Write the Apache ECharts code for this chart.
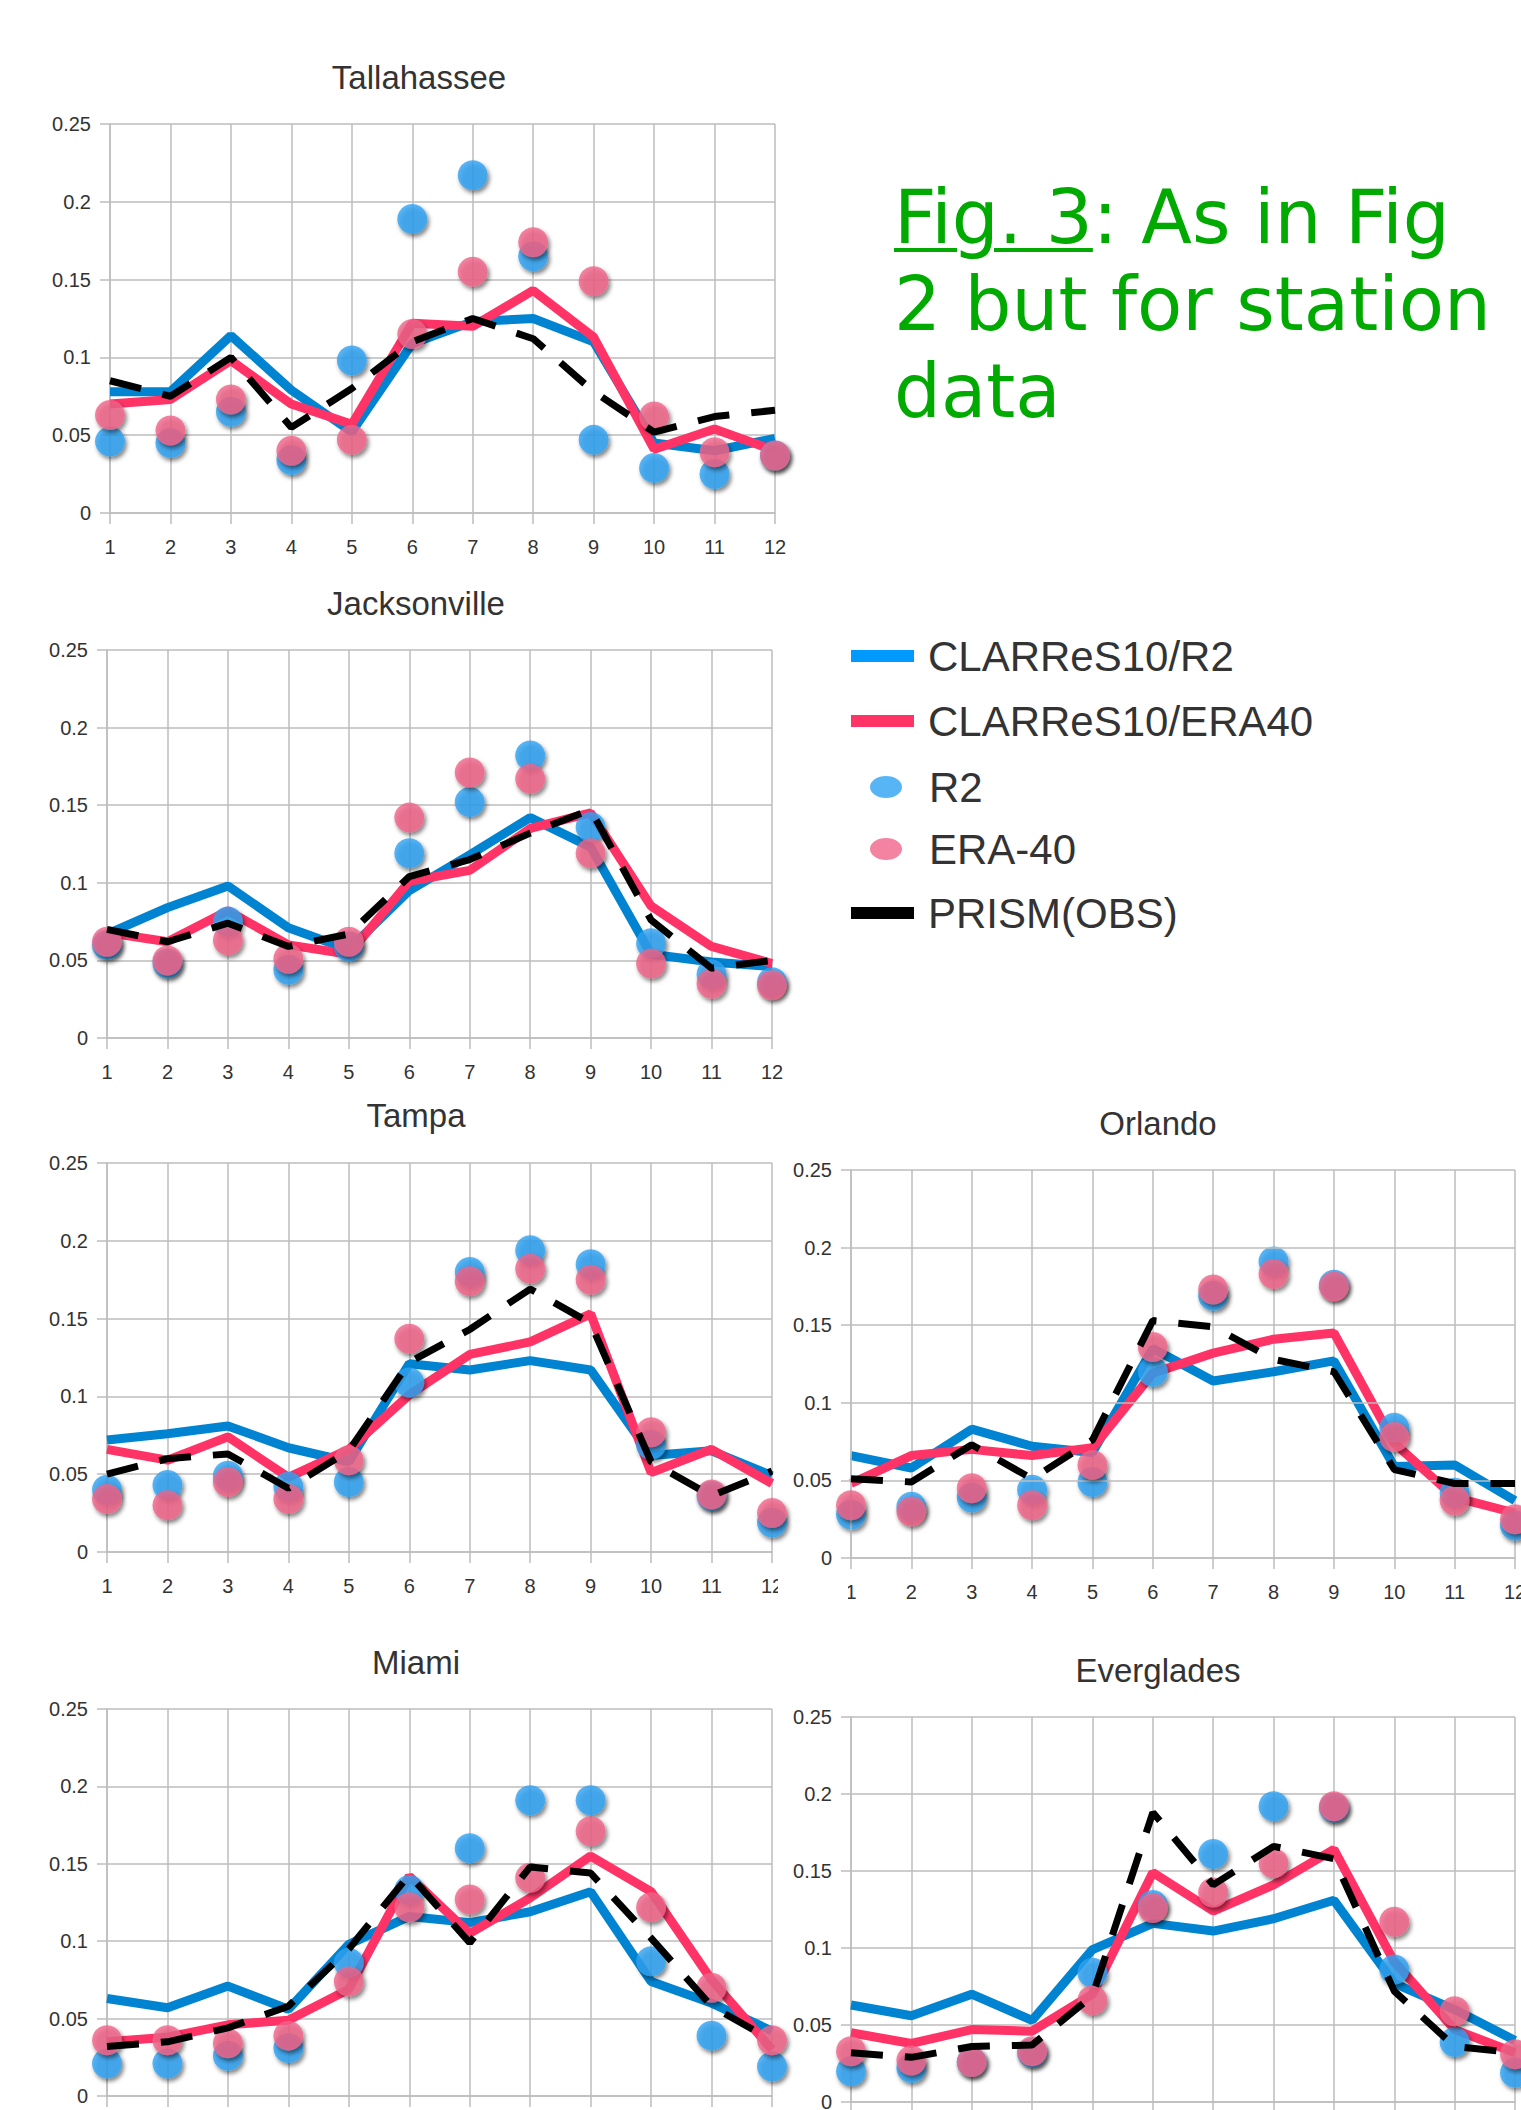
<!DOCTYPE html>
<html>
<head>
<meta charset="utf-8">
<title>Fig. 3 – station data</title>
<script src="https://cdn.jsdelivr.net/npm/echarts@6.0.0/dist/echarts.min.js"></script>
<style>
  html, body { margin: 0; padding: 0; background: #fff; }
  #chart { position: absolute; left: 0; top: 0; width: 1521px; height: 2110px; }
  /* caption to the right of the first two panels */
  #caption {
    position: absolute; left: 894px; top: 174px; white-space: nowrap;
    font-family: 'DejaVu Sans', sans-serif; font-size: 74px; line-height: 87px; color: #00aa00;
  }
  #caption u { text-decoration-thickness: 4px; text-underline-offset: 5px; }
</style>
</head>
<body>
<div id="chart"></div>
<div id="caption"><u>Fig. 3</u>: As in Fig<br>2 but for station<br>data</div>
<script>
// months on the x axis
const months = [1, 2, 3, 4, 5, 6, 7, 8, 9, 10, 11, 12]

// Tallahassee
const tallahasseeClarresR2 = [0.078, 0.078, 0.114, 0.079, 0.052, 0.109, 0.123, 0.125, 0.110, 0.045, 0.040, 0.048]
const tallahasseeClarresEra = [0.070, 0.073, 0.098, 0.070, 0.057, 0.122, 0.120, 0.143, 0.113, 0.041, 0.054, 0.040]
const tallahasseeR2 = [0.046, 0.045, 0.065, 0.034, 0.098, 0.189, 0.217, 0.165, 0.047, 0.029, 0.025, 0.037]
const tallahasseeEra = [0.063, 0.053, 0.073, 0.040, 0.047, 0.115, 0.155, 0.174, 0.149, 0.062, 0.039, 0.037]
const tallahasseePrism = [0.085, 0.075, 0.100, 0.055, 0.080, 0.110, 0.125, 0.112, 0.078, 0.052, 0.062, 0.066]

// Jacksonville
const jacksonvilleClarresR2 = [0.067, 0.084, 0.098, 0.071, 0.057, 0.095, 0.118, 0.142, 0.123, 0.054, 0.049, 0.046]
const jacksonvilleClarresEra = [0.068, 0.062, 0.082, 0.060, 0.054, 0.101, 0.108, 0.135, 0.145, 0.085, 0.059, 0.048]
const jacksonvilleR2 = [0.060, 0.048, 0.075, 0.044, 0.059, 0.119, 0.152, 0.182, 0.136, 0.061, 0.041, 0.036]
const jacksonvilleEra = [0.062, 0.050, 0.063, 0.051, 0.062, 0.142, 0.171, 0.167, 0.119, 0.048, 0.035, 0.034]
const jacksonvillePrism = [0.070, 0.062, 0.074, 0.059, 0.067, 0.104, 0.115, 0.132, 0.147, 0.076, 0.045, 0.050]

// Tampa
const tampaClarresR2 = [0.072, 0.076, 0.081, 0.067, 0.058, 0.121, 0.117, 0.123, 0.117, 0.062, 0.065, 0.049]
const tampaClarresEra = [0.066, 0.059, 0.074, 0.048, 0.066, 0.101, 0.127, 0.135, 0.153, 0.051, 0.066, 0.044]
const tampaR2 = [0.040, 0.043, 0.049, 0.042, 0.045, 0.109, 0.180, 0.194, 0.185, 0.069, 0.036, 0.019]
const tampaEra = [0.034, 0.030, 0.045, 0.034, 0.059, 0.137, 0.174, 0.182, 0.175, 0.077, 0.037, 0.025]
const tampaPrism = [0.050, 0.060, 0.063, 0.041, 0.065, 0.122, 0.143, 0.169, 0.147, 0.058, 0.036, 0.052]

// Orlando
const orlandoClarresR2 = [0.066, 0.058, 0.083, 0.072, 0.068, 0.135, 0.114, 0.120, 0.127, 0.059, 0.060, 0.037]
const orlandoClarresEra = [0.048, 0.066, 0.070, 0.066, 0.071, 0.119, 0.132, 0.141, 0.145, 0.074, 0.039, 0.029]
const orlandoR2 = [0.028, 0.033, 0.039, 0.044, 0.049, 0.120, 0.169, 0.191, 0.176, 0.084, 0.042, 0.021]
const orlandoEra = [0.034, 0.030, 0.045, 0.034, 0.060, 0.136, 0.173, 0.183, 0.175, 0.078, 0.037, 0.025]
const orlandoPrism = [0.051, 0.049, 0.073, 0.051, 0.076, 0.153, 0.149, 0.128, 0.120, 0.057, 0.048, 0.048]

// Miami
const miamiClarresR2 = [0.063, 0.057, 0.071, 0.056, 0.098, 0.116, 0.112, 0.119, 0.132, 0.074, 0.060, 0.042]
const miamiClarresEra = [0.035, 0.038, 0.046, 0.049, 0.069, 0.142, 0.105, 0.128, 0.155, 0.132, 0.075, 0.030]
const miamiR2 = [0.021, 0.021, 0.026, 0.031, 0.086, 0.133, 0.160, 0.191, 0.191, 0.087, 0.039, 0.019]
const miamiEra = [0.036, 0.036, 0.034, 0.039, 0.074, 0.122, 0.127, 0.141, 0.171, 0.122, 0.070, 0.036]
const miamiPrism = [0.032, 0.035, 0.044, 0.058, 0.095, 0.143, 0.099, 0.148, 0.144, 0.102, 0.058, 0.036]

// Everglades
const evergladesClarresR2 = [0.063, 0.056, 0.070, 0.053, 0.099, 0.116, 0.111, 0.119, 0.131, 0.077, 0.060, 0.040]
const evergladesClarresEra = [0.045, 0.038, 0.047, 0.046, 0.070, 0.149, 0.124, 0.141, 0.164, 0.091, 0.047, 0.032]
const evergladesR2 = [0.020, 0.022, 0.026, 0.032, 0.084, 0.128, 0.161, 0.192, 0.191, 0.086, 0.039, 0.019]
const evergladesEra = [0.033, 0.027, 0.026, 0.033, 0.066, 0.126, 0.136, 0.155, 0.192, 0.117, 0.059, 0.031]
const evergladesPrism = [0.032, 0.029, 0.036, 0.037, 0.069, 0.188, 0.141, 0.166, 0.158, 0.072, 0.036, 0.032]

// y ticks 0 .. 0.25
const yMin = 0
const yMax = 0.25
const yStep = 0.05

// panel layout (pixels); the bottom row runs off the page, so its month labels are not drawn
const panels = [
  { name: 'Tallahassee', left: 110, top: 124, width: 665, height: 389, tx: 419, ty: 77, xLabels: true,
    lines: [tallahasseeClarresR2, tallahasseeClarresEra, tallahasseeR2, tallahasseeEra, tallahasseePrism] },
  { name: 'Jacksonville', left: 107, top: 650, width: 665, height: 388, tx: 416, ty: 603, xLabels: true,
    lines: [jacksonvilleClarresR2, jacksonvilleClarresEra, jacksonvilleR2, jacksonvilleEra, jacksonvillePrism] },
  { name: 'Tampa', left: 107, top: 1163, width: 665, height: 389, tx: 416, ty: 1115, xLabels: true,
    lines: [tampaClarresR2, tampaClarresEra, tampaR2, tampaEra, tampaPrism] },
  { name: 'Orlando', left: 851, top: 1170, width: 664, height: 388, tx: 1158, ty: 1123, xLabels: true,
    lines: [orlandoClarresR2, orlandoClarresEra, orlandoR2, orlandoEra, orlandoPrism] },
  { name: 'Miami', left: 107, top: 1709, width: 665, height: 387, tx: 416, ty: 1662, xLabels: false,
    lines: [miamiClarresR2, miamiClarresEra, miamiR2, miamiEra, miamiPrism] },
  { name: 'Everglades', left: 851, top: 1717, width: 664, height: 385, tx: 1158, ty: 1670, xLabels: false,
    lines: [evergladesClarresR2, evergladesClarresEra, evergladesR2, evergladesEra, evergladesPrism] }
]

const gridColor = '#bdbdbd'
const labelFont = { fontFamily: 'Liberation Sans', fontSize: 20, color: '#333' }
const markerShadow = { shadowBlur: 4, shadowColor: 'rgba(0,0,0,0.6)', shadowOffsetX: 2, shadowOffsetY: 3 }
// legend marker: flat ellipse 32 x 22
const ellipseIcon = 'path://M0,11 A16,11 0 1,0 32,11 A16,11 0 1,0 0,11 Z'

const pairs = arr => months.map((m, i) => [m, arr[i]])

const grid = []
const xAxis = []
const yAxis = []
const series = []
const graphic = []

panels.forEach((p, i) => {
  grid.push({ left: p.left, top: p.top, width: p.width, height: p.height, outerBoundsMode: 'none', containLabel: false })
  xAxis.push({
    gridIndex: i, type: 'value', min: 1, max: 12, interval: 1,
    axisLine: { show: true, lineStyle: { color: gridColor, width: 1.5 } },
    axisTick: { show: true, length: 11, lineStyle: { color: gridColor, width: 1.5 } },
    splitLine: { show: true, lineStyle: { color: gridColor, width: 1.5 } },
    axisLabel: { ...labelFont, margin: 24, show: p.xLabels }
  })
  yAxis.push({
    gridIndex: i, type: 'value', min: yMin, max: yMax, interval: yStep,
    z: i === 3 ? 5 : 0,
    axisLine: { show: true, lineStyle: { color: gridColor, width: 1.5 } },
    axisTick: { show: true, length: 10, lineStyle: { color: gridColor, width: 1.5 } },
    splitLine: { show: true, lineStyle: { color: gridColor, width: 1.5 } },
    axisLabel: { ...labelFont, margin: 19 }
  })
  const [cR2, cEra, r2, era, prism] = p.lines
  series.push(
    { name: 'CLARReS10/R2', type: 'line', xAxisIndex: i, yAxisIndex: i, data: pairs(cR2), symbol: 'none', clip: false, z: 2,
      lineStyle: { color: '#0084d1', width: 9 }, itemStyle: { color: '#0084d1' } },
    { name: 'CLARReS10/ERA40', type: 'line', xAxisIndex: i, yAxisIndex: i, data: pairs(cEra), symbol: 'none', clip: false, z: 3,
      lineStyle: { color: '#ff3366', width: 9 }, itemStyle: { color: '#ff3366' } },
    { name: 'R2', type: 'scatter', xAxisIndex: i, yAxisIndex: i, data: pairs(r2), symbolSize: 30, clip: false, z: 4,
      itemStyle: { color: '#2ea3f2', ...markerShadow } },
    { name: 'ERA-40', type: 'scatter', xAxisIndex: i, yAxisIndex: i, data: pairs(era), symbolSize: 30, clip: false, z: 5,
      itemStyle: { color: '#f06489', ...markerShadow } },
    { name: 'PRISM(OBS)', type: 'line', xAxisIndex: i, yAxisIndex: i, data: pairs(prism), symbol: 'none', clip: false, z: 6,
      lineStyle: { color: '#000', width: 7, type: [32, 22], cap: 'butt' }, itemStyle: { color: '#000' } }
  )
  graphic.push({
    type: 'text', x: p.tx, y: p.ty, z: 10,
    style: { text: p.name, fontFamily: 'Liberation Sans', fontSize: 33, fill: '#333',
      align: 'center', verticalAlign: 'middle', textAlign: 'center', textVerticalAlign: 'middle' }
  })
})

// the Orlando panel sits on top of the right edge of the Tampa panel
graphic.push({ type: 'rect', shape: { x: 778, y: 1140, width: 70, height: 470 }, z: 3, style: { fill: '#fff' } })

const legendText = { fontFamily: 'Liberation Sans', fontSize: 42, color: '#333' }

const option = {
  animation: false,
  backgroundColor: '#fff',
  grid,
  xAxis,
  yAxis,
  series,
  graphic,
  legend: [
    {
      orient: 'vertical', left: 851, top: 635, padding: 0, itemGap: 23, itemWidth: 63, itemHeight: 12,
      selectedMode: false, textStyle: { ...legendText, padding: [0, 0, 0, 9] },
      data: [
        { name: 'CLARReS10/R2', icon: 'rect', itemStyle: { color: '#0099ff' } },
        { name: 'CLARReS10/ERA40', icon: 'rect', itemStyle: { color: '#ff3366' } }
      ]
    },
    {
      orient: 'vertical', left: 870, top: 766, padding: 0, itemGap: 20, itemWidth: 32, itemHeight: 22,
      selectedMode: false, textStyle: { ...legendText, padding: [0, 0, 0, 22] },
      data: [
        { name: 'R2', icon: ellipseIcon },
        { name: 'ERA-40', icon: ellipseIcon }
      ]
    },
    {
      orient: 'vertical', left: 851, top: 892, padding: 0, itemWidth: 63, itemHeight: 12,
      selectedMode: false, textStyle: { ...legendText, padding: [0, 0, 0, 9] },
      data: [{ name: 'PRISM(OBS)', icon: 'rect', itemStyle: { color: '#000' } }]
    }
  ]
}

const chart = echarts.init(document.getElementById('chart'), null, { renderer: 'svg', width: 1521, height: 2110 })
chart.setOption(option)
</script>
</body>
</html>
